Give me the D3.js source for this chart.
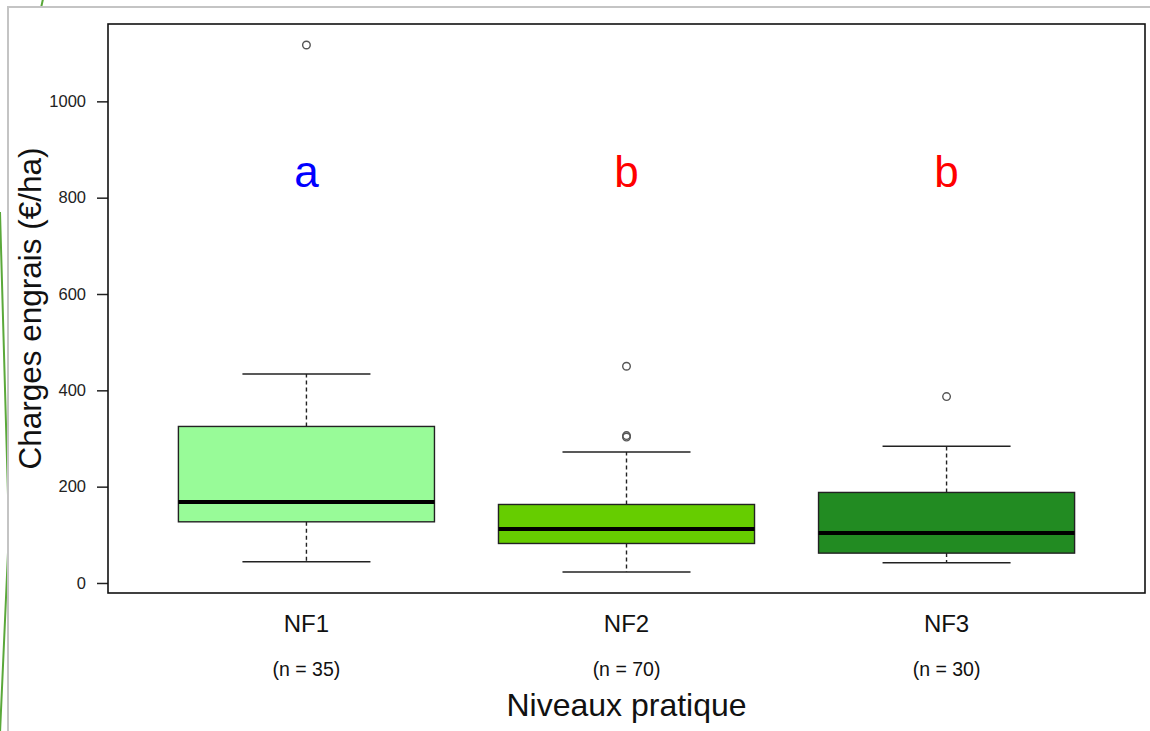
<!DOCTYPE html>
<html>
<head>
<meta charset="utf-8">
<script src="https://cdn.jsdelivr.net/npm/d3@7"></script>
<style>
  body { margin: 0; background: #fff; }
  svg { display: block; font-family: "Liberation Sans", Arial, sans-serif; }
</style>
</head>
<body>
<script>
// boxplot: fertiliser costs per practice level
var categories = ["NF1", "NF2", "NF3"];
var counts = [35, 70, 30];
var whiskerLow = [44, 23, 42];
var q1 = [127, 82, 62];
var median = [168, 112, 104];
var q3 = [325, 163, 188];
var whiskerHigh = [434, 272, 284];
var outliers = [[1117], [303, 306, 450], [387]];
var groupLetters = ["a", "b", "b"];
var yTicks = [0, 200, 400, 600, 800, 1000];

var fills = ["#98FB98", "#66CD00", "#228B22"];
var letterColors = ["#0000ff", "#ff0000", "#ff0000"];

var W = 1150, H = 731;
var plot = {left: 108, top: 24, right: 1145, bottom: 593};

var svg = d3.select("body").append("svg")
    .attr("width", W)
    .attr("height", H);

// slide decoration behind the picture
svg.append("path")
    .attr("d", "M0,212 L9,530 L0,733")
    .attr("fill", "none")
    .attr("stroke", "#5aa83a")
    .attr("stroke-width", 2);
svg.append("line")
    .attr("x1", 43).attr("y1", -1).attr("x2", 41).attr("y2", 8)
    .attr("stroke", "#5aa83a").attr("stroke-width", 2);
svg.append("rect")
    .attr("x", 8).attr("y", 7)
    .attr("width", W).attr("height", H)
    .attr("fill", "#fff")
    .attr("stroke", "#c4c4c4")
    .attr("stroke-width", 2);

// scales like R: xlim 0.5..3.5 and ylim both extended by 4%
var x = d3.scaleLinear()
    .domain([0.38, 3.62])
    .range([plot.left, plot.right]);
var y = d3.scaleLinear()
    .domain([-20.8, 1160.6])
    .range([plot.bottom, plot.top]);

var unit = x(2) - x(1);
var boxW = 0.8 * unit;
var capW = boxW / 2;

var g = svg.append("g");

// y axis
var yAxis = g.append("g")
    .attr("transform", "translate(" + plot.left + ",0)")
    .call(d3.axisLeft(y).tickValues(yTicks).tickFormat(d3.format("d"))
        .tickSize(11).tickPadding(11));
yAxis.select(".domain").remove();
yAxis.selectAll("line").attr("stroke", "#222").attr("stroke-width", 1.5);
yAxis.selectAll("text")
    .attr("font-size", 16.5)
    .attr("fill", "#222")
    .attr("font-family", "Liberation Sans, Arial, sans-serif");

// one group per category
var boxes = g.selectAll(".box")
    .data(categories)
    .enter().append("g")
    .attr("class", "box");

// dashed whiskers
boxes.append("line")
    .attr("x1", function(d, i) { return x(i + 1); })
    .attr("x2", function(d, i) { return x(i + 1); })
    .attr("y1", function(d, i) { return y(q3[i]); })
    .attr("y2", function(d, i) { return y(whiskerHigh[i]); })
    .attr("stroke", "#222").attr("stroke-width", 1.4)
    .attr("stroke-dasharray", "4,3");
boxes.append("line")
    .attr("x1", function(d, i) { return x(i + 1); })
    .attr("x2", function(d, i) { return x(i + 1); })
    .attr("y1", function(d, i) { return y(q1[i]); })
    .attr("y2", function(d, i) { return y(whiskerLow[i]); })
    .attr("stroke", "#222").attr("stroke-width", 1.4)
    .attr("stroke-dasharray", "4,3");

// caps
[whiskerHigh, whiskerLow].forEach(function(arr) {
  boxes.append("line")
      .attr("x1", function(d, i) { return x(i + 1) - capW / 2; })
      .attr("x2", function(d, i) { return x(i + 1) + capW / 2; })
      .attr("y1", function(d, i) { return y(arr[i]); })
      .attr("y2", function(d, i) { return y(arr[i]); })
      .attr("stroke", "#222").attr("stroke-width", 1.5);
});

// boxes
boxes.append("rect")
    .attr("x", function(d, i) { return x(i + 1) - boxW / 2; })
    .attr("y", function(d, i) { return y(q3[i]); })
    .attr("width", boxW)
    .attr("height", function(d, i) { return y(q1[i]) - y(q3[i]); })
    .attr("fill", function(d, i) { return fills[i]; })
    .attr("stroke", "#222").attr("stroke-width", 1.4);

// medians
boxes.append("line")
    .attr("x1", function(d, i) { return x(i + 1) - boxW / 2; })
    .attr("x2", function(d, i) { return x(i + 1) + boxW / 2; })
    .attr("y1", function(d, i) { return y(median[i]); })
    .attr("y2", function(d, i) { return y(median[i]); })
    .attr("stroke", "#000").attr("stroke-width", 4);

// outliers
boxes.each(function(d, i) {
  d3.select(this).selectAll("circle")
      .data(outliers[i])
      .enter().append("circle")
      .attr("cx", x(i + 1))
      .attr("cy", function(v) { return y(v); })
      .attr("r", 3.8)
      .attr("fill", "none")
      .attr("stroke", "#555").attr("stroke-width", 1.4);
});

// significance letters
boxes.append("text")
    .attr("x", function(d, i) { return x(i + 1); })
    .attr("y", 187)
    .attr("text-anchor", "middle")
    .attr("font-size", 44)
    .attr("fill", function(d, i) { return letterColors[i]; })
    .text(function(d, i) { return groupLetters[i]; });

// category names and counts
boxes.append("text")
    .attr("x", function(d, i) { return x(i + 1); })
    .attr("y", 632)
    .attr("text-anchor", "middle")
    .attr("font-size", 24)
    .attr("fill", "#111")
    .text(function(d) { return d; });
boxes.append("text")
    .attr("x", function(d, i) { return x(i + 1); })
    .attr("y", 676)
    .attr("text-anchor", "middle")
    .attr("font-size", 19.5)
    .attr("fill", "#111")
    .text(function(d, i) { return "(n = " + counts[i] + ")"; });

// plot frame
g.append("rect")
    .attr("x", plot.left).attr("y", plot.top)
    .attr("width", plot.right - plot.left)
    .attr("height", plot.bottom - plot.top)
    .attr("fill", "none")
    .attr("stroke", "#111").attr("stroke-width", 1.6);

// axis titles
svg.append("text")
    .attr("x", (plot.left + plot.right) / 2)
    .attr("y", 716)
    .attr("text-anchor", "middle")
    .attr("font-size", 32)
    .attr("fill", "#111")
    .text("Niveaux pratique");
svg.append("text")
    .attr("transform", "translate(41," + ((plot.top + plot.bottom) / 2) + ") rotate(-90)")
    .attr("text-anchor", "middle")
    .attr("font-size", 31.5)
    .attr("fill", "#111")
    .text("Charges engrais (€/ha)");
</script>
</body>
</html>
